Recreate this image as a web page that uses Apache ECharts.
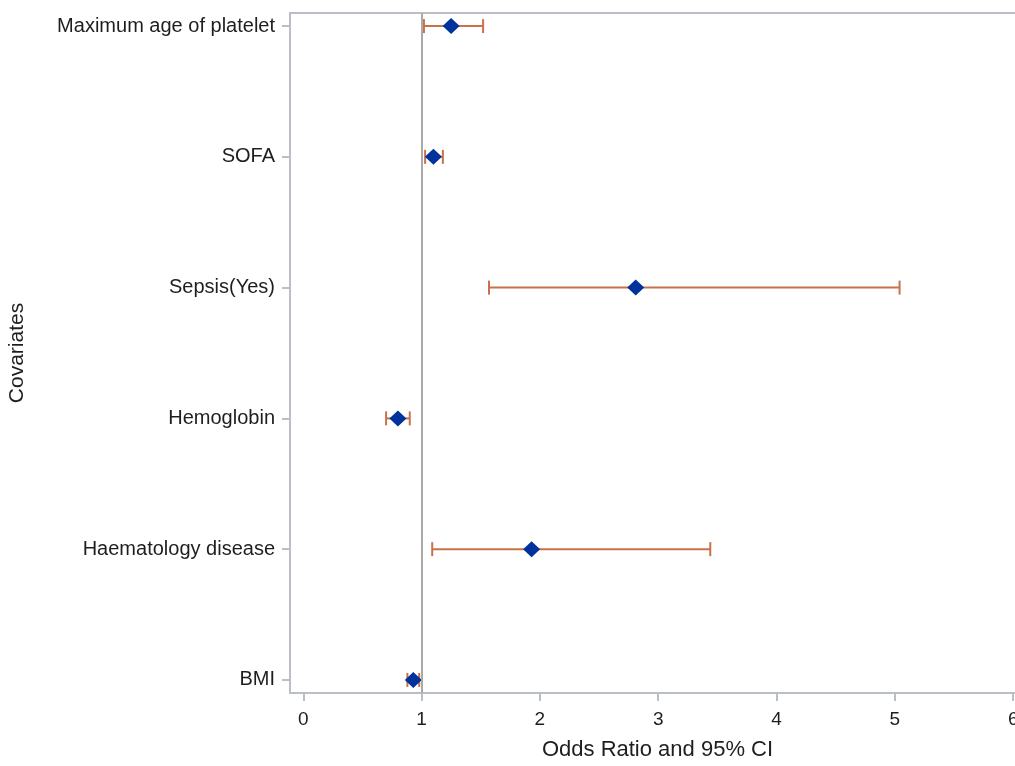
<!DOCTYPE html>
<html>
<head>
<meta charset="utf-8">
<script src="https://cdn.jsdelivr.net/npm/echarts@6/dist/echarts.min.js"></script>
<style>
  html, body { margin: 0; padding: 0; background: #fff; }
  #chart { width: 1015px; height: 766px; }
</style>
</head>
<body>
<div id="chart"></div>
<script>
// covariates, top to bottom
const covariates = [
  "Maximum age of platelet",
  "SOFA",
  "Sepsis(Yes)",
  "Hemoglobin",
  "Haematology disease",
  "BMI"
];
const oddsRatio = [1.25, 1.10, 2.81, 0.80, 1.93, 0.93];
const lowerCI = [1.02, 1.03, 1.57, 0.70, 1.09, 0.88];
const upperCI = [1.52, 1.18, 5.04, 0.90, 3.44, 0.98];
const xTicks = [0, 1, 2, 3, 4, 5, 6];
const rowTicks = [0, 1, 2, 3, 4, 5];

const chart = echarts.init(document.getElementById("chart"));

const font = "Liberation Sans, Arial, sans-serif";
const frameColor = "#b9bfc4";
const xMin = -0.112;
const xMax = 6.1;

const pointData = oddsRatio.map((v, i) => [v, i]);
const ciData = covariates.map((c, i) => [lowerCI[i], upperCI[i], i]);

const option = {
  backgroundColor: "#fff",
  animation: false,
  grid: { left: 290, top: 13, right: -10, bottom: 73, outerBoundsMode: "none" },
  xAxis: [
    {
      type: "value",
      min: xMin,
      max: xMax,
      name: "Odds Ratio and 95% CI",
      nameLocation: "middle",
      nameGap: 46,
      nameTextStyle: { fontFamily: font, fontSize: 22, color: "#1e1e1e" },
      axisLine: { show: true, onZero: false, lineStyle: { color: frameColor, width: 2 } },
      axisTick: {
        show: true,
        length: 8,
        customValues: xTicks,
        lineStyle: { color: frameColor, width: 2 },
      },
      axisLabel: {
        customValues: xTicks,
        margin: 17,
        fontFamily: font,
        fontSize: 19,
        color: "#1e1e1e",
      },
      splitLine: { show: false },
    },
    {
      // top frame line
      type: "value",
      position: "top",
      min: xMin,
      max: xMax,
      axisLine: { show: true, onZero: false, lineStyle: { color: frameColor, width: 2 } },
      axisTick: { show: false },
      axisLabel: { show: false },
      splitLine: { show: false },
    },
  ],
  yAxis: {
    type: "value",
    inverse: true,
    min: -0.1,
    max: 5.1,
    name: "Covariates",
    nameLocation: "middle",
    nameGap: 262,
    nameTextStyle: { fontFamily: font, fontSize: 21, color: "#1e1e1e" },
    axisLine: { show: true, onZero: false, lineStyle: { color: frameColor, width: 2 } },
    axisTick: {
      show: true,
      length: 8,
      customValues: rowTicks,
      lineStyle: { color: frameColor, width: 2 },
    },
    axisLabel: {
      customValues: rowTicks,
      margin: 15,
      fontFamily: font,
      fontSize: 20,
      color: "#1e1e1e",
      formatter: (v) => covariates[Math.round(v)],
    },
    splitLine: { show: false },
  },
  series: [
    {
      // confidence intervals with end caps
      type: "custom",
      data: ciData,
      z: 2,
      renderItem: (params, api) => {
        const lo = api.coord([api.value(0), api.value(2)]);
        const hi = api.coord([api.value(1), api.value(2)]);
        const cap = 7;
        const style = { stroke: "#c8714a", lineWidth: 2 };
        return {
          type: "group",
          children: [
            { type: "line", shape: { x1: lo[0], y1: lo[1], x2: hi[0], y2: hi[1] }, style },
            { type: "line", shape: { x1: lo[0], y1: lo[1] - cap, x2: lo[0], y2: lo[1] + cap }, style },
            { type: "line", shape: { x1: hi[0], y1: hi[1] - cap, x2: hi[0], y2: hi[1] + cap }, style },
          ],
        };
      },
    },
    {
      type: "scatter",
      data: pointData,
      symbol: "diamond",
      symbolSize: [17, 16],
      z: 3,
      itemStyle: { color: "#00329c", opacity: 1 },
      markLine: {
        silent: true,
        symbol: "none",
        label: { show: false },
        lineStyle: { color: "#a9a9a9", width: 2, type: "solid" },
        data: [{ xAxis: 1 }],
      },
    },
  ],
};

chart.setOption(option);
</script>
</body>
</html>
